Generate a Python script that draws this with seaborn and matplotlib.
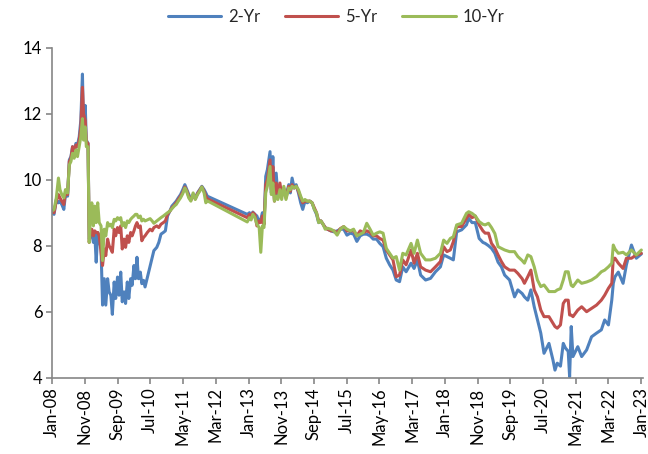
import numpy as np
import pandas as pd
import matplotlib
matplotlib.use("Agg")
import matplotlib.pyplot as plt
import matplotlib.dates as mdates
import seaborn as sns
from datetime import datetime

# Government bond yields (%) by tenor; one list entry per observation date
dates = [
    # 2008
    "2008-01-01", "2008-01-20", "2008-02-10", "2008-03-01", "2008-03-15", "2008-04-01",
    "2008-04-20", "2008-05-05", "2008-05-25", "2008-06-10", "2008-06-25", "2008-07-10",
    "2008-07-25", "2008-08-10", "2008-08-25", "2008-09-10", "2008-09-25", "2008-10-10",
    "2008-10-20", "2008-11-05", "2008-11-15", "2008-12-01", "2008-12-12", "2008-12-25",
    # 2009
    "2009-01-05", "2009-01-20", "2009-02-01", "2009-02-15", "2009-03-01", "2009-03-15",
    "2009-04-01", "2009-04-15", "2009-05-01", "2009-05-15", "2009-06-01", "2009-06-15",
    "2009-07-01", "2009-07-15", "2009-08-01", "2009-08-15", "2009-09-01", "2009-09-15",
    "2009-10-01", "2009-10-15", "2009-11-01", "2009-11-15", "2009-12-01", "2009-12-15",
    # 2010
    "2010-01-01", "2010-01-15", "2010-02-01", "2010-02-15", "2010-03-01", "2010-03-15",
    "2010-04-01", "2010-04-15", "2010-05-01", "2010-05-15", "2010-06-05", "2010-07-01",
    "2010-07-20", "2010-08-05", "2010-09-01", "2010-09-20", "2010-10-10", "2010-11-01",
    "2010-11-20", "2010-12-10",
    # 2011
    "2011-01-01", "2011-01-20", "2011-02-10", "2011-03-01", "2011-03-20", "2011-04-10",
    "2011-05-01", "2011-05-20", "2011-06-05", "2011-06-25", "2011-07-15", "2011-08-05",
    "2011-08-25", "2011-09-15", "2011-10-05", "2011-10-25", "2011-11-15", "2011-12-01",
    "2011-12-15",
    # 2012 - 2013
    "2012-12-20", "2013-01-10", "2013-01-25", "2013-02-10", "2013-03-01", "2013-03-20",
    "2013-04-10", "2013-04-25", "2013-05-10", "2013-05-25", "2013-06-10", "2013-06-25",
    "2013-07-20", "2013-08-01", "2013-08-15", "2013-08-30", "2013-09-15", "2013-10-01",
    "2013-10-20", "2013-11-05", "2013-11-25", "2013-12-15",
    # 2014
    "2014-01-10", "2014-01-25", "2014-02-10", "2014-03-01", "2014-03-20", "2014-04-10",
    "2014-05-01", "2014-05-20", "2014-06-10", "2014-07-01", "2014-07-25", "2014-08-15",
    "2014-09-05", "2014-09-25", "2014-10-15", "2014-11-05", "2014-11-25", "2014-12-15",
    # 2015
    "2015-01-05", "2015-02-05", "2015-03-05", "2015-04-05", "2015-05-05", "2015-06-05",
    "2015-07-05", "2015-08-05", "2015-09-05", "2015-10-05", "2015-11-05", "2015-12-05",
    # 2016
    "2016-01-05", "2016-02-05", "2016-03-05", "2016-04-05", "2016-05-05", "2016-06-05",
    "2016-07-05", "2016-08-05", "2016-09-05", "2016-10-05", "2016-11-05", "2016-12-05",
    # 2017
    "2017-01-05", "2017-02-20", "2017-03-20", "2017-04-20", "2017-05-20", "2017-07-05",
    "2017-08-20", "2017-10-05", "2017-11-20", "2017-12-20",
    # 2018
    "2018-01-20", "2018-02-20", "2018-03-20", "2018-04-20", "2018-06-05", "2018-07-20",
    "2018-08-10", "2018-09-10", "2018-10-10", "2018-11-15", "2018-12-20",
    # 2019
    "2019-01-10", "2019-02-10", "2019-03-10", "2019-04-10", "2019-05-10", "2019-06-10",
    "2019-07-10", "2019-08-25", "2019-10-10", "2019-11-10", "2019-12-20",
    # 2020
    "2020-01-10", "2020-02-10", "2020-03-10", "2020-04-10", "2020-05-10", "2020-06-10",
    "2020-07-10", "2020-08-25", "2020-10-01", "2020-10-20", "2020-11-10", "2020-12-10",
    # 2021
    "2021-01-05", "2021-01-25", "2021-02-20", "2021-03-05", "2021-03-20", "2021-04-05",
    "2021-05-20", "2021-06-25", "2021-08-10", "2021-09-25", "2021-11-10", "2021-12-25",
    # 2022 - 2023
    "2022-01-25", "2022-03-01", "2022-04-01", "2022-04-15", "2022-05-01", "2022-06-01",
    "2022-07-15", "2022-08-15", "2022-10-01", "2022-11-15", "2023-01-01",
]

yield_2y = [
    9.00, 8.95, 9.40, 9.30, 9.35, 9.25, 9.10, 9.55, 9.50, 10.60, 10.70, 11.00,
    10.80, 11.10, 11.05, 11.30, 11.80, 13.20, 11.60, 12.25, 11.20, 11.10, 8.20, 8.30,
    8.40, 8.10, 8.40, 7.50, 8.40, 8.20, 7.90, 6.20, 7.00, 6.20, 7.00, 6.60,
    6.50, 5.92, 6.90, 6.40, 7.05, 6.50, 7.20, 6.30, 6.60, 6.25, 6.90, 6.40,
    7.00, 6.80, 7.40, 7.00, 7.65, 7.00, 7.20, 6.85, 6.95, 6.75, np.nan, np.nan,
    np.nan, 7.85, 7.95, 8.10, 8.35, 8.40, 8.45, 8.90,
    9.05, 9.20, 9.28, 9.35, 9.45, 9.55, 9.70, 9.85, 9.72, 9.55, 9.40, 9.55,
    9.45, 9.60, 9.70, 9.80, 9.70, 9.60, 9.50,
    8.95, 9.00, 8.85, 9.02, 8.95, 8.90, 8.70, 8.80, 9.00, 8.65, 10.10, 10.30,
    10.85, 9.60, 10.70, 9.40, 10.20, 9.50, 9.80, 9.60, 9.70, 9.50,
    9.85, 9.60, 10.05, 9.75, 9.85, 9.60, 9.30, 9.10, 9.35, 9.30, 9.35, 9.30,
    9.10, 8.95, 8.70, 8.75, 8.65, 8.55,
    8.50, 8.45, 8.42, 8.45, 8.50, 8.50, 8.32, 8.38, 8.35, 8.13, 8.30, 8.35,
    8.35, 8.30, 8.20, 8.20, 8.07, 7.97, 7.62, 7.42, 7.26, 6.96, 6.91, 7.36,
    7.21, 7.47, 7.31, 7.57, 7.11, 6.96, 7.01, 7.21, 7.36, 7.72,
    7.67, 7.62, 7.57, 8.42, 8.48, 8.63, 8.83, 8.70, 8.70, 8.22, 8.10,
    8.07, 8.00, 7.92, 7.77, 7.50, 7.36, 7.11, 6.96, 6.45, 6.66, 6.55,
    6.45, 6.35, 6.66, 6.15, 5.75, 5.35, 4.74, 5.04, 4.54, 4.23, 4.44, 4.35,
    5.04, 4.90, 4.80, 4.03, 5.55, 4.64, 4.94, 4.64, 4.84, 5.24, 5.35, 5.45,
    5.75, 5.60, 6.35, 6.86, 7.06, 7.20, 6.86, 7.42, 8.02, 7.62, 7.75,
]

yield_5y = [
    9.05, 9.00, 9.35, 9.55, 9.45, 9.35, 9.25, 9.60, 9.55, 10.55, 10.65, 11.00,
    10.85, 11.05, 11.00, 11.20, 11.60, 12.80, 12.00, 11.80, 11.15, 11.10, 8.10, 8.40,
    8.50, 8.30, 8.45, 8.40, 8.40, 8.30, 7.80, 7.40, 7.90, 7.70, 8.20, 8.00,
    7.90, 7.80, 8.50, 8.30, 8.55, 8.40, 8.60, 7.90, 8.20, 7.95, 8.30, 8.10,
    8.40, 8.30, 8.45, 8.60, 8.70, 8.55, 8.60, 8.15, 8.25, 8.30, 8.40, 8.50,
    8.45, 8.55, 8.60, 8.55, 8.65, 8.70, 8.75, 8.95,
    9.05, 9.15, 9.22, 9.30, 9.40, 9.50, 9.62, 9.78, 9.68, 9.50, 9.38, 9.55,
    9.42, 9.58, 9.68, 9.78, 9.65, 9.50, 9.42,
    8.85, 8.95, 8.85, 9.00, 8.95, 8.60, 8.75, 8.70, 8.90, 8.65, 9.85, 10.00,
    10.60, 9.70, 10.40, 9.35, 9.90, 9.60, 9.90, 9.50, 9.75, 9.45,
    9.80, 9.65, 9.85, 9.75, 9.80, 9.65, 9.45, 9.30, 9.35, 9.35, 9.35, 9.30,
    9.15, 9.00, 8.75, 8.75, 8.65, 8.55,
    8.50, 8.45, 8.45, 8.40, 8.52, 8.58, 8.45, 8.45, 8.45, 8.30, 8.45, 8.40,
    8.45, 8.40, 8.30, 8.30, 8.22, 8.17, 7.87, 7.72, 7.57, 7.06, 7.11, 7.57,
    7.42, 7.87, 7.47, 7.77, 7.36, 7.26, 7.21, 7.36, 7.52, 7.97,
    7.82, 7.87, 8.12, 8.58, 8.58, 8.83, 8.95, 8.85, 8.90, 8.63, 8.45,
    8.38, 8.38, 8.07, 7.93, 7.72, 7.52, 7.36, 7.26, 7.26, 7.16, 7.00,
    6.86, 7.06, 7.26, 6.66, 6.45, 6.05, 5.85, 5.85, 5.65, 5.55, 5.50, 5.60,
    6.25, 6.35, 6.35, 5.90, 5.90, 5.85, 6.05, 6.15, 6.00, 6.10, 6.20, 6.35,
    6.50, 6.71, 6.86, 7.62, 7.62, 7.47, 7.31, 7.62, 7.62, 7.72, 7.77,
]

yield_10y = [
    9.05, 9.10, 9.45, 10.05, 9.70, 9.55, 9.45, 9.70, 9.60, 10.45, 10.55, 10.80,
    10.65, 10.90, 10.70, 11.00, 11.30, 11.85, 11.20, 11.60, 11.00, 11.00, 8.10, 8.90,
    9.30, 8.60, 9.20, 8.70, 9.30, 8.70, 8.60, 7.55, 8.50, 8.30, 8.70, 8.60,
    8.65, 8.55, 8.80, 8.75, 8.85, 8.80, 8.85, 8.60, 8.70, 8.55, 8.75, 8.70,
    8.80, 8.85, 8.90, 8.95, 8.95, 8.85, 8.90, 8.75, 8.80, 8.75, 8.78, 8.82,
    8.75, 8.68, 8.75, 8.80, 8.85, 8.90, 8.95, 9.00,
    9.05, 9.12, 9.20, 9.25, 9.35, 9.45, 9.58, 9.75, 9.65, 9.45, 9.35, 9.60,
    9.40, 9.55, 9.65, 9.78, 9.60, 9.30, 9.36,
    8.72, 8.85, 8.78, 8.95, 8.85, 8.65, 8.55, 7.80, 8.60, 8.55, 9.60, 9.80,
    10.40, 9.55, 9.90, 9.35, 9.50, 9.40, 9.70, 9.40, 9.80, 9.40,
    9.75, 9.70, 9.80, 9.75, 9.80, 9.70, 9.50, 9.35, 9.40, 9.35, 9.35, 9.30,
    9.10, 9.00, 8.70, 8.75, 8.65, 8.50,
    8.53, 8.50, 8.45, 8.32, 8.50, 8.58, 8.50, 8.45, 8.50, 8.30, 8.35, 8.40,
    8.68, 8.50, 8.32, 8.38, 8.42, 8.38, 7.92, 7.77, 7.62, 7.67, 7.26, 7.77,
    7.72, 8.07, 7.77, 8.17, 7.77, 7.57, 7.57, 7.62, 7.77, 8.17,
    8.07, 8.22, 8.27, 8.63, 8.68, 8.98, 9.03, 8.98, 8.90, 8.73, 8.65,
    8.63, 8.68, 8.55, 8.37, 7.97, 7.92, 7.87, 7.82, 7.82, 7.67, 7.55,
    7.47, 7.72, 7.67, 7.36, 6.96, 6.76, 6.81, 6.61, 6.61, 6.61, 6.66, 6.70,
    6.96, 7.21, 7.21, 7.00, 6.80, 6.76, 6.96, 6.86, 6.90, 6.96, 7.06, 7.21,
    7.26, 7.36, 7.47, 8.02, 7.90, 7.77, 7.80, 7.72, 7.87, 7.72, 7.87,
]

series_names = ["2-Yr", "5-Yr", "10-Yr"]
series_colors = ["#4F81BD", "#C0504D", "#9BBB59"]

tick_labels = [
    "Jan-08", "Nov-08", "Sep-09", "Jul-10", "May-11", "Mar-12", "Jan-13",
    "Nov-13", "Sep-14", "Jul-15", "May-16", "Mar-17", "Jan-18", "Nov-18",
    "Sep-19", "Jul-20", "May-21", "Mar-22", "Jan-23",
]
y_ticks = [4, 6, 8, 10, 12, 14]

wide = pd.DataFrame({
    "date": pd.to_datetime(dates),
    series_names[0]: yield_2y,
    series_names[1]: yield_5y,
    series_names[2]: yield_10y,
})
long = wide.melt(id_vars="date", var_name="tenor", value_name="yield")

sns.set_style("white")
plt.rcParams["font.family"] = ["Lato", "DejaVu Sans"]

W, H = 648, 454
fig = plt.figure(figsize=(W / 100, H / 100), dpi=100)
ax = fig.add_axes([52 / W, 1 - 377.7 / H, 591.4 / W, 330 / H])

sns.lineplot(
    data=long, x="date", y="yield", hue="tenor",
    hue_order=series_names, palette=series_colors,
    estimator=None, linewidth=2.2, ax=ax,
)

# x axis: one tick every ten months
tick_dates = pd.date_range("2008-01-01", periods=len(tick_labels), freq="10MS")
ax.set_xticks(mdates.date2num(tick_dates.to_pydatetime()))
ax.set_xticklabels(tick_labels, rotation=90, fontsize=12, color="#000000")
ax.set_xlim(mdates.date2num(datetime(2008, 1, 1)), mdates.date2num(datetime(2023, 1, 20)))

ax.set_ylim(4, 14)
ax.set_yticks(y_ticks)
ax.set_yticklabels([str(v) for v in y_ticks], fontsize=12, color="#000000")

ax.set_xlabel("")
ax.set_ylabel("")
ax.grid(False)

for side in ("top", "right"):
    ax.spines[side].set_visible(False)
for side in ("left", "bottom"):
    ax.spines[side].set_color("#868686")
    ax.spines[side].set_linewidth(1.2)
ax.tick_params(axis="both", direction="out", length=4, width=1.2, color="#868686",
               left=True, bottom=True, pad=3)

handles, labels = ax.get_legend_handles_labels()
ax.get_legend().remove()
fig.legend(
    handles, labels, loc="center", bbox_to_anchor=(336 / W, 1 - 17 / H),
    ncol=3, frameon=False, fontsize=12, handlelength=3.2,
    handletextpad=0.4, columnspacing=1.5,
)

fig.savefig("out.png", dpi=100)
